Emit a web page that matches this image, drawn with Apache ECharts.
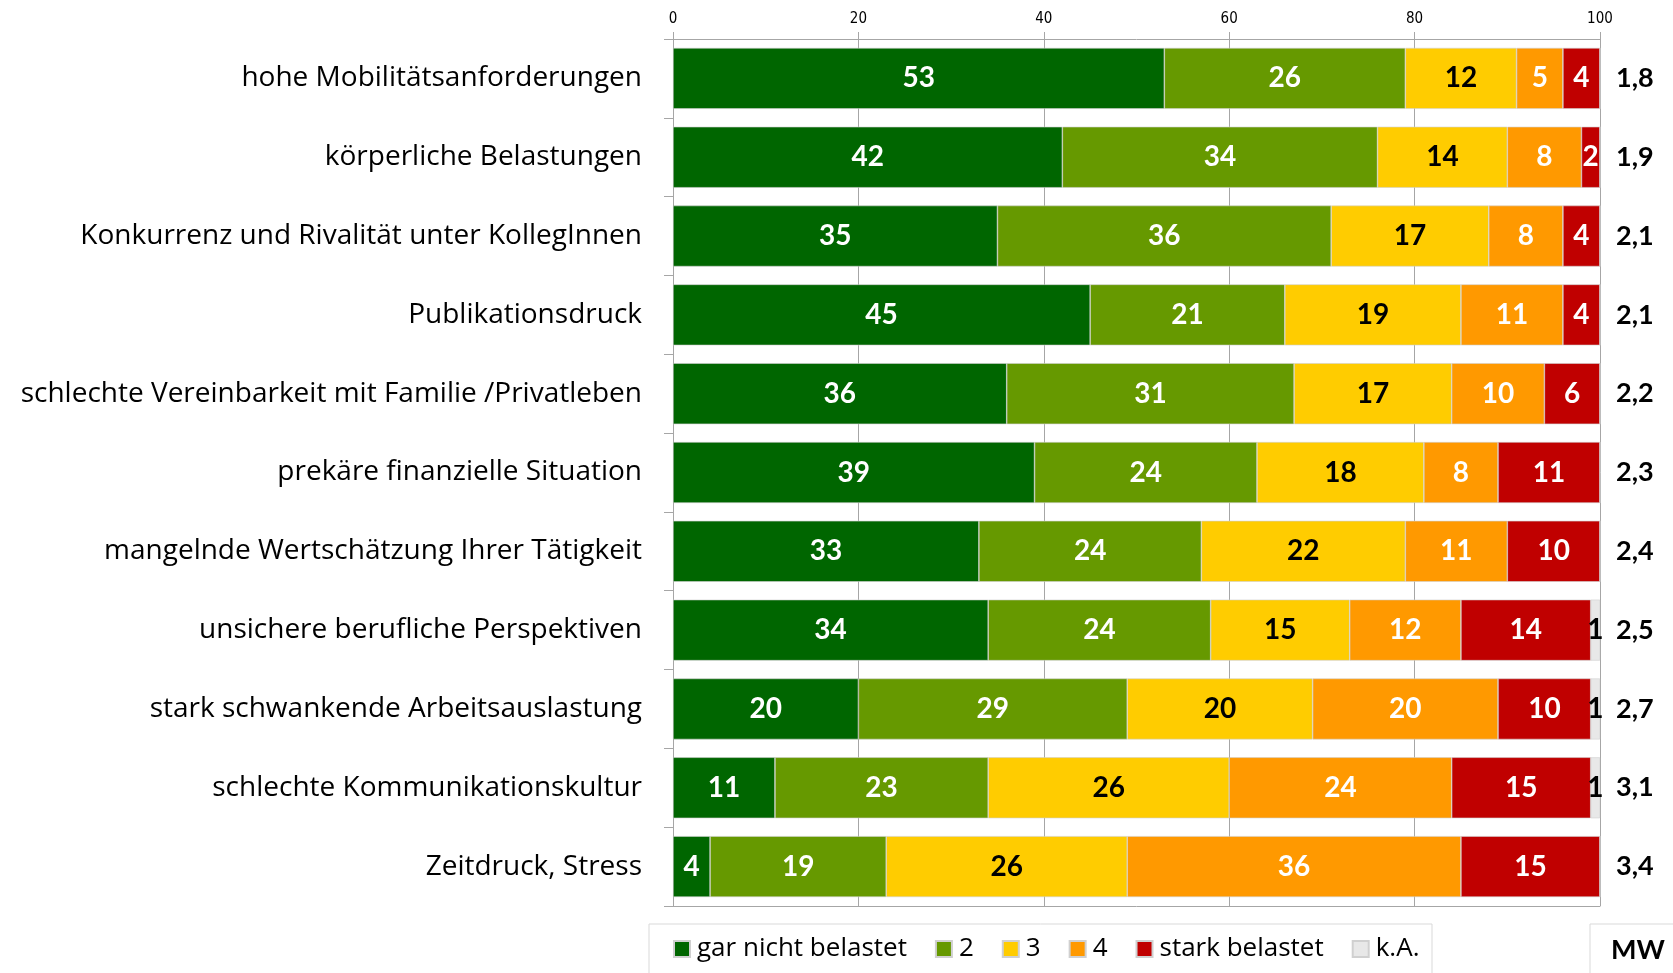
<!DOCTYPE html>
<html><head><meta charset="utf-8">
<script src="https://cdn.jsdelivr.net/npm/echarts@6/dist/echarts.min.js"></script>
<style>html,body{margin:0;padding:0;background:#fff}#c{width:1673px;height:973px}</style>
</head><body><div id="c"></div>
<script>
const categories = [
  "hohe Mobilitätsanforderungen",
  "körperliche Belastungen",
  "Konkurrenz und Rivalität unter KollegInnen",
  "Publikationsdruck",
  "schlechte Vereinbarkeit mit Familie /Privatleben",
  "prekäre finanzielle Situation",
  "mangelnde Wertschätzung Ihrer Tätigkeit",
  "unsichere berufliche Perspektiven",
  "stark schwankende Arbeitsauslastung",
  "schlechte Kommunikationskultur",
  "Zeitdruck, Stress"
];
const garNicht = [53, 42, 35, 45, 36, 39, 33, 34, 20, 11, 4];
const zwei     = [26, 34, 36, 21, 31, 24, 24, 24, 29, 23, 19];
const drei     = [12, 14, 17, 19, 17, 18, 22, 15, 20, 26, 26];
const vier     = [5, 8, 8, 11, 10, 8, 11, 12, 20, 24, 36];
const stark    = [4, 2, 4, 4, 6, 11, 10, 14, 10, 15, 15];
const kA       = [0, 0, 0, 0, 0, 0, 0, 1, 1, 1, 0];
const mw       = [1.8, 1.9, 2.1, 2.1, 2.2, 2.3, 2.4, 2.5, 2.7, 3.1, 3.4];
const xTicks   = [0, 20, 40, 60, 80, 100];

const FONT = "'Open Sans', Lato, sans-serif";
const BOLD = "Lato, 'Open Sans', sans-serif";
const NARROW = "'Liberation Sans Narrow', 'DejaVu Sans Condensed', sans-serif";

function mk(name, data, color, labelColor) {
  return {
    name, type: 'bar', stack: 'all', data,
    xAxisIndex: 0, yAxisIndex: 0,
    barWidth: 61,
    itemStyle: { color, borderColor: '#d0d0d0', borderWidth: 0.6 },
    label: {
      show: true, position: 'inside', color: labelColor,
      fontFamily: BOLD, fontSize: 28, fontWeight: 'bold',
      formatter: p => p.value > 0 ? String(p.value) : ''
    },
    emphasis: { disabled: true }
  };
}

const chart = echarts.init(document.getElementById('c'));
chart.setOption({
  animation: false,
  backgroundColor: '#fff',
  grid: { left: 673, right: 73, top: 39, bottom: 67 },
  xAxis: [{
    type: 'value', position: 'top', min: 0, max: 100, interval: 20,
    axisLine: { show: true, lineStyle: { color: '#a6a6a6', width: 1 } },
    axisTick: { show: true, length: 7, lineStyle: { color: '#a6a6a6' } },
    axisLabel: { fontFamily: NARROW, fontSize: 15, color: '#000', margin: 12,
      formatter: v => xTicks.includes(v) ? String(v) : '' },
    splitLine: { show: true, lineStyle: { color: '#a6a6a6', width: 1 } }
  }, {
    type: 'value', position: 'bottom', min: 0, max: 100,
    axisLine: { show: true, lineStyle: { color: '#a6a6a6', width: 1 } },
    axisTick: { show: false }, axisLabel: { show: false }, splitLine: { show: false }
  }],
  yAxis: [{
    type: 'category', inverse: true, data: categories, position: 'left',
    axisLine: { show: true, lineStyle: { color: '#a6a6a6' } },
    axisTick: { show: true, length: 9, lineStyle: { color: '#a6a6a6' } },
    axisLabel: { fontFamily: FONT, fontSize: 28, color: '#000', margin: 31 }
  }, {
    type: 'category', inverse: true, position: 'right',
    data: mw.map(v => v.toFixed(1).replace('.', ',')),
    axisLine: { show: false }, axisTick: { show: false },
    axisLabel: { fontFamily: BOLD, fontSize: 27, fontWeight: 'bold', color: '#000', margin: 16 }
  }],
  legend: {
    left: 668, top: 931, itemWidth: 16, itemHeight: 16, itemGap: 28,
    icon: 'rect',
    textStyle: { fontFamily: FONT, fontSize: 26, color: '#000', padding: [0, 0, 0, 2] },
    data: ['gar nicht belastet', '2', '3', '4', 'stark belastet', 'k.A.']
  },
  graphic: [
    { type: 'rect', shape: { x: 649, y: 924, width: 783, height: 70 },
      style: { fill: 'none', stroke: '#d9d9d9', lineWidth: 1 }, silent: true },
    { type: 'rect', shape: { x: 1590, y: 924, width: 100, height: 70 },
      style: { fill: 'none', stroke: '#d9d9d9', lineWidth: 1 }, silent: true },
    { type: 'text', x: 1611, y: 950,
      style: { text: 'MW', fontFamily: BOLD, fontSize: 27, fontWeight: 'bold', fill: '#000', verticalAlign: 'middle' } }
  ],
  series: [
    mk('gar nicht belastet', garNicht, '#006600', '#fff'),
    mk('2', zwei, '#669900', '#fff'),
    mk('3', drei, '#FFCC00', '#000'),
    mk('4', vier, '#FF9900', '#fff'),
    mk('stark belastet', stark, '#C00000', '#fff'),
    mk('k.A.', kA, '#E8E8E8', '#000')
  ]
});
</script></body></html>
